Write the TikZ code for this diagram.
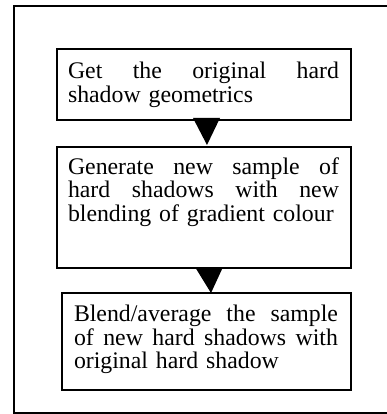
\documentclass[tikz,border=0pt]{standalone}
\usepackage{fontspec}
\setmainfont{Liberation Serif}
\usetikzlibrary{calc}
\newcommand{\jline}[1]{\hbox to \hsize{\spaceskip=0.25em plus 1fil\relax #1}\par}
\begin{document}
\begin{tikzpicture}[x=1pt,y=-1pt,
  boxstyle/.style={draw, line width=1.3pt, inner sep=0pt, outer sep=0pt},
  txt/.style={anchor=base west, inner sep=0pt, outer sep=0pt, align=left,
              font=\fontsize{23.8}{23.5}\selectfont},
  tri/.style={fill=black}]
\useasboundingbox (0,0) rectangle (387,414);
\draw[line width=1.6pt] (14,6) rectangle (400,413);
\node[boxstyle, minimum width=294pt, minimum height=71pt] (b1) at (204,84.5) {};
\node[boxstyle, minimum width=294pt, minimum height=121pt] (b2) at (204,207.5) {};
\node[boxstyle, minimum width=289pt, minimum height=97pt] (b3) at (206.5,341.5) {};
\node[txt, text width=271pt] (t1) at (68,79) {\jline{Get the original hard}shadow geometrics};
\node[txt, text width=271pt] (t2) at (68,174) {\jline{Generate new sample of}\jline{hard shadows with new}blending of gradient colour};
\node[txt, text width=264pt] (t3) at (74,321.7) {\jline{Blend/average the sample}\jline{of new hard shadows with}original hard shadow};
\fill[tri] ($(b1.south)+(-11,-2)$) -- ($(b1.south)+(16,-2)$) -- ($(b2.north)+(3,-2)$) -- cycle;
\fill[tri] ($(b2.south)+(-9,-1)$) -- ($(b2.south)+(19,-1)$) -- ($(b3.north)+(4.5,0)$) -- cycle;
\end{tikzpicture}
\end{document}
